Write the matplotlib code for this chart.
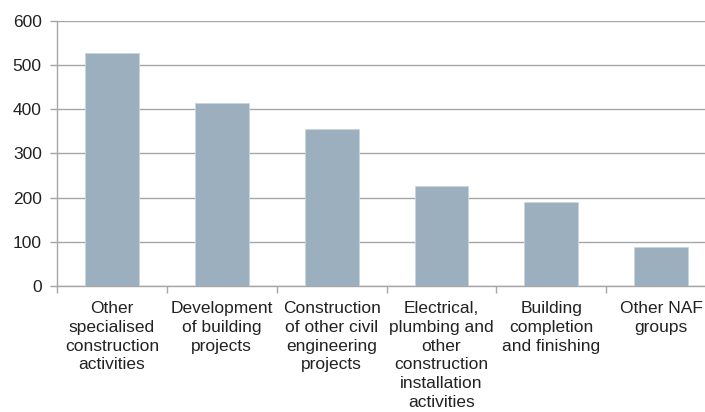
import matplotlib.pyplot as plt

categories = [
    "Other\nspecialised\nconstruction\nactivities",
    "Development\nof building\nprojects",
    "Construction\nof other civil\nengineering\nprojects",
    "Electrical,\nplumbing and\nother\nconstruction\ninstallation\nactivities",
    "Building\ncompletion\nand finishing",
    "Other NAF\ngroups",
]
values = [527, 414, 355, 226, 191, 88]
y_ticks = [0, 100, 200, 300, 400, 500, 600]

plt.rcParams["font.family"] = ["Liberation Sans", "DejaVu Sans"]

fig = plt.figure(figsize=(7.05, 4.12), dpi=100)
# axes run slightly past the right edge, as in the original
ax = fig.add_axes([0.0809, 0.306, 0.935, 0.643])

x = range(len(categories))
ax.bar(x, values, width=0.49, color="#9bafbf", edgecolor="#c9d5df",
       linewidth=0.6, zorder=3)

ax.set_xlim(-0.5, len(categories) - 0.5)
ax.set_ylim(0, 600)
ax.set_yticks(y_ticks)
ax.set_yticklabels([str(v) for v in y_ticks], fontsize=12.5, color="#222222")
ax.yaxis.grid(True, color="#a6a6a6", linewidth=1.0, zorder=0)

# category boundaries get the tick marks, labels sit in the middle
ax.set_xticks([i - 0.5 for i in range(len(categories) + 1)])
ax.set_xticklabels([""] * (len(categories) + 1))
ax.set_xticks(list(x), minor=True)
ax.set_xticklabels(categories, minor=True, fontsize=12.5, color="#222222",
                   linespacing=1.31)
ax.tick_params(axis="x", which="minor", length=0, pad=11)
ax.tick_params(axis="x", which="major", length=5, color="#a6a6a6", width=1.0)
ax.tick_params(axis="y", length=5, color="#a6a6a6", width=1.0, pad=6)

for side in ["top", "right"]:
    ax.spines[side].set_visible(False)
for side in ["left", "bottom"]:
    ax.spines[side].set_color("#a6a6a6")
    ax.spines[side].set_linewidth(1.0)

fig.savefig("out.png", dpi=100)
